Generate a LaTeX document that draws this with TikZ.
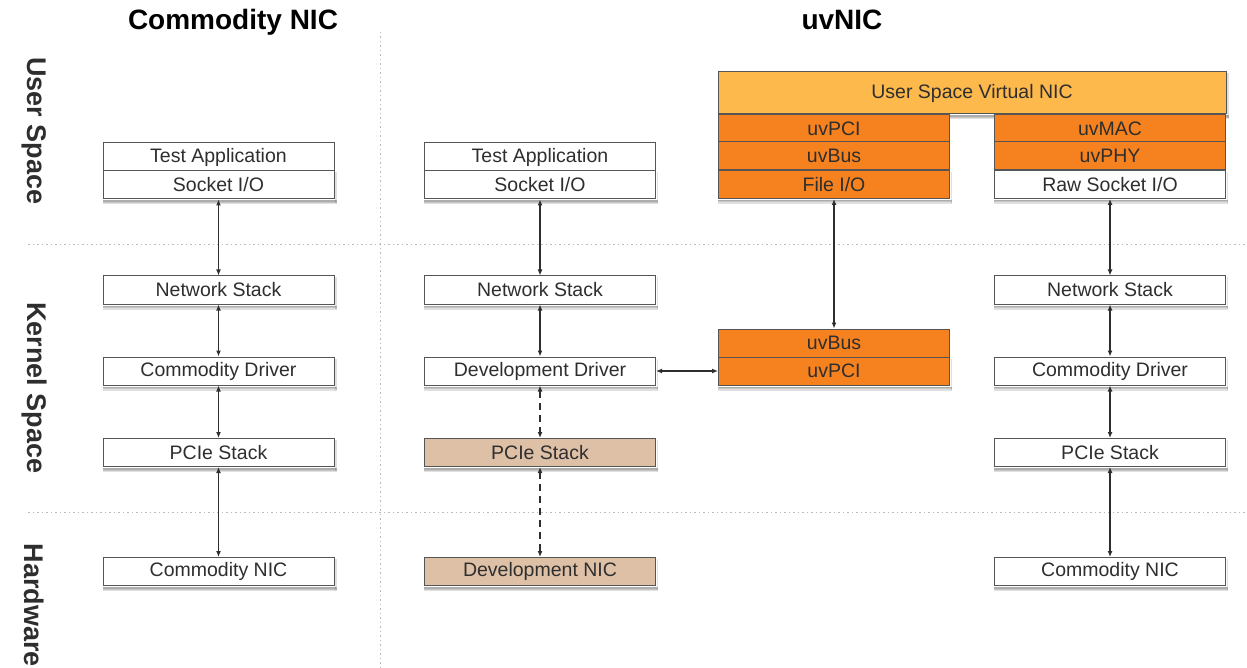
\documentclass[tikz,border=0pt]{standalone}
\usepackage{fontspec}
\setmainfont{Liberation Sans}
\usetikzlibrary{arrows.meta,backgrounds}
\definecolor{txt}{HTML}{2E2E2E}
\definecolor{bord}{HTML}{555555}
\definecolor{uvorange}{HTML}{F5821F}
\definecolor{uvlight}{HTML}{FDB94B}
\definecolor{tan}{HTML}{DEC0A6}
\definecolor{dotgray}{HTML}{BBBBBB}
\tikzset{
  box/.style={draw=bord, line width=1pt, fill=white, minimum width=231pt, minimum height=28pt,
    inner sep=0pt, text=txt, font=\fontsize{19.5}{20}\selectfont},
  orangebox/.style={box, fill=uvorange},
  tanbox/.style={box, fill=tan},
  hdr/.style={font=\bfseries\fontsize{28}{30}\selectfont, text=black},
  side/.style={font=\bfseries\fontsize{27}{30}\selectfont, text=txt, rotate=-90},
  conn/.style={draw=txt, line width=1.4pt, {Latex[length=6pt,width=5pt]}-{Latex[length=6pt,width=5pt]}},
  dconn/.style={conn, dash pattern=on 7pt off 5pt},
  sep/.style={draw=dotgray, line width=1pt, dash pattern=on 1.5pt off 3pt},
  shad/.style={fill=black, fill opacity=0.12}
}
\begin{document}
\begin{tikzpicture}[x=1pt,y=-1pt]
\useasboundingbox (0,0) rectangle (1247,668);
% separators
\draw[sep] (380,32) -- (380,668);
\draw[sep] (28,245) -- (1247,245);
\draw[sep] (28,512) -- (1247,512);
% headers
\node[hdr] (h1) at (233,22) {Commodity NIC};
\node[hdr] (h2) at (842,20) {uvNIC};
\node[side] (s1) at (34,131) {User Space};
\node[side] (s2) at (34,388) {Kernel Space};
\node[side, anchor=west] (s3) at (34,540) {Hardware};
% column 1
\node[box] (a1) at (218.5,157) {Test Application};
\node[box] (a2) at (218.5,185) {Socket I/O};
\node[box] (a3) at (218.5,290) {Network Stack};
\node[box] (a4) at (218.5,371) {Commodity Driver};
\node[box] (a5) at (218.5,452.5) {PCIe Stack};
\node[box] (a6) at (218.5,571.5) {Commodity NIC};
% column 2
\node[box] (b1) at (540,157) {Test Application};
\node[box] (b2) at (540,185) {Socket I/O};
\node[box] (b3) at (540,290) {Network Stack};
\node[box] (b4) at (540,371) {Development Driver};
\node[tanbox] (b5) at (540,452.5) {PCIe Stack};
\node[tanbox] (b6) at (540,571.5) {Development NIC};
% uvNIC
\node[box, fill=uvlight, minimum width=508pt, minimum height=42pt] (u0) at (972,93) {User Space Virtual NIC};
\node[orangebox] (c1) at (834,129) {uvPCI};
\node[orangebox] (c2) at (834,156) {uvBus};
\node[orangebox] (c3) at (834,184.5) {File I/O};
\node[orangebox] (d1) at (1110,129) {uvMAC};
\node[orangebox] (d2) at (1110,156) {uvPHY};
\node[box] (d3) at (1110,184.5) {Raw Socket I/O};
\node[orangebox] (c4) at (834,343) {uvBus};
\node[orangebox] (c5) at (834,371) {uvPCI};
% column 4
\node[box] (d4) at (1110,290) {Network Stack};
\node[box] (d5) at (1110,371) {Commodity Driver};
\node[box] (d6) at (1110,452.5) {PCIe Stack};
\node[box] (d7) at (1110,571.5) {Commodity NIC};
% shadows
\begin{scope}[on background layer]
\foreach \n in {a2,a3,a4,a5,a6,b2,b3,b4,b5,b6,c3,d3,c5,d4,d5,d6,d7,u0}{
  \fill[shad] ([shift={(0,1)}]\n.south west) rectangle ([shift={(2,5)}]\n.south east);
  \fill[shad] ([shift={(0,1)}]\n.south west) rectangle ([shift={(2,3.5)}]\n.south east);
  \fill[shad] ([shift={(0,1)}]\n.south west) rectangle ([shift={(1,2.5)}]\n.south east);
  \fill[shad] ([shift={(0.5,2)}]\n.north east) rectangle ([shift={(2,4)}]\n.south east);
}
\end{scope}
% connectors
\draw[conn] (a2) -- (a3);
\draw[conn] (a3) -- (a4);
\draw[conn] (a4) -- (a5);
\draw[conn] (a5) -- (a6);
\draw[conn] (b2) -- (b3);
\draw[conn] (b3) -- (b4);
\draw[dconn] (b4) -- (b5);
\draw[dconn] (b5) -- (b6);
\draw[conn] (b4) -- (c5);
\draw[conn] (c3) -- (c4);
\draw[conn] (d3) -- (d4);
\draw[conn] (d4) -- (d5);
\draw[conn] (d5) -- (d6);
\draw[conn] (d6) -- (d7);
\end{tikzpicture}
\end{document}
